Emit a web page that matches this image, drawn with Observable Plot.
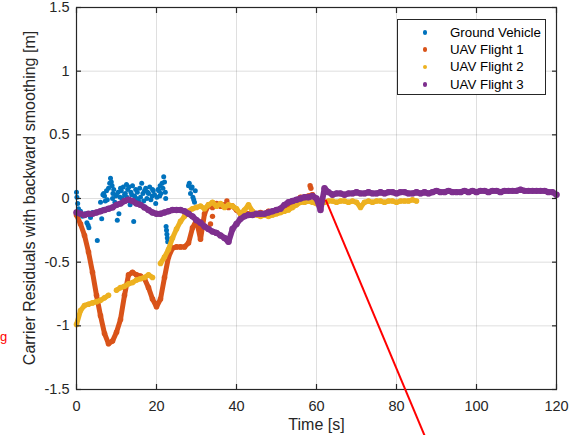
<!DOCTYPE html>
<html>
<head>
<meta charset="utf-8">
<script src="https://cdn.jsdelivr.net/npm/d3@7"></script>
<script src="https://cdn.jsdelivr.net/npm/@observablehq/plot@0.6"></script>
<style>
  html, body { margin: 0; padding: 0; background: #fff; }
  #chart { position: relative; width: 584px; height: 435px; overflow: hidden;
           font-family: "Liberation Sans", Arial, sans-serif; }
  #legend { position: absolute; left: 397px; top: 19px; width: 149px; height: 76px;
            box-sizing: border-box; border: 1px solid #262626; background: #fff; }
  .row { position: absolute; left: 0; height: 17.4px; line-height: 17.4px;
         font-size: 13.3px; color: #000; white-space: nowrap; }
  .row .mk { position: absolute; left: 24.5px; top: 6.5px; width: 4.6px; height: 4.6px; border-radius: 50%; }
  .row .lb { position: absolute; left: 52px; }
  #ylabel { position: absolute; left: 30px; top: 198px; white-space: nowrap; font-size: 16px; color: #262626;
            transform: translate(-50%, -50%) rotate(-90deg); }
  #stray { position: absolute; left: 0px; top: 329px; color: #f00; font-size: 13px; }
</style>
</head>
<body>
<div id="chart"><div id="stray">g</div></div>
<script>
// Series names and colours (MATLAB default order)
const seriesNames = ["Ground Vehicle", "UAV Flight 1", "UAV Flight 2", "UAV Flight 3"];
const seriesColors = ["#0072BD", "#D95319", "#EDB120", "#7E2F8E"];

// Axis ticks
const xTicks = [0, 20, 40, 60, 80, 100, 120];
const yTicks = [-1.5, -1, -0.5, 0, 0.5, 1, 1.5];

// Ground vehicle residuals: scattered epochs (time [s], residual [m])
const groundT = [0.0, 0.1, 0.3, 0.5, 1.0, 1.5, 2.2, 2.6, 2.9, 3.1, 3.5, 4.0, 5.2, 6.0, 6.4, 6.6, 6.8, 7.2, 7.5, 7.7,
  8.0, 8.3, 8.5, 8.7, 8.9, 9.1, 9.3, 9.6, 9.8, 10.2, 10.4, 10.6, 10.9, 11.2, 11.4, 11.7, 12.0, 12.2, 12.5, 12.8,
  13.1, 13.4, 13.6, 14.0, 14.3, 14.5, 14.8, 15.2, 15.5, 15.8, 16.0, 16.3, 16.6, 16.8, 17.0, 17.3, 17.6, 18.0, 18.3, 18.6,
  18.9, 19.2, 19.5, 19.8, 20.1, 20.4, 20.6, 20.9, 21.1, 21.4, 21.6, 21.8, 22.0, 22.2, 22.3, 22.4, 22.5, 22.6, 22.7, 22.8,
  28.0, 28.2, 28.5, 28.7, 28.9, 29.1, 29.3, 29.5, 29.7, 6.3, 7.0, 10.0, 12.6, 15.0, 17.8, 19.0, 20.8, 13.8, 11.0, 9.0];
const groundV = [0.05, 0.01, -0.04, -0.08, -0.10, -0.14, -0.12, -0.19, -0.21, -0.23, -0.15, -0.11, -0.33, -0.03, -0.09, 0.03, 0.04, -0.02, 0.06, -0.01,
  0.08, 0.12, 0.16, 0.13, 0.10, 0.04, 0.07, -0.03, 0.02, -0.17, 0.05, -0.12, 0.01, 0.06, 0.00, 0.09, 0.03, 0.04, 0.11, 0.07,
  0.09, -0.05, 0.05, 0.10, -0.18, 0.02, 0.07, 0.05, -0.02, 0.08, 0.01, 0.12, 0.04, -0.02, 0.06, 0.08, 0.00, 0.04, 0.09, -0.01,
  0.02, 0.06, 0.03, -0.04, 0.01, 0.07, 0.06, 0.10, 0.04, 0.12, 0.08, 0.17, 0.13, 0.05, 0.00, -0.22, -0.25, -0.28, -0.31, -0.34,
  0.10, 0.12, 0.04, 0.08, 0.09, 0.01, -0.01, -0.03, 0.06, -0.16, 0.02, 0.03, 0.01, 0.00, 0.05, 0.07, 0.02, 0.03, 0.08, 0.00];

// UAV residuals, one value per second starting at t = 0 (null = no solution)
const flight1 = [-0.13, -0.20, -0.29, -0.42, -0.58, -0.76, -0.92, -1.06, -1.14, -1.12,
  -1.05, -0.95, -0.76, -0.60, -0.58, -0.60, -0.61, -0.63, -0.70, -0.79,
  -0.85, -0.79, -0.62, -0.46, -0.39, -0.38, -0.38, -0.38, -0.35, -0.23,
  -0.17, -0.32, -0.12, -0.05, -0.07, -0.04, -0.06, -0.05, -0.07, -0.06,
  -0.09, -0.12, -0.11, -0.12, -0.11, -0.12, -0.11, -0.12, -0.10, -0.11,
  -0.09, -0.10, -0.07, -0.05, -0.03, -0.02, 0.01, 0.01, 0.02, 0.03];
const flight1OutT = [33.5, 34.0, 37.6, 58.4, 58.6];
const flight1OutV = [-0.20, -0.14, -0.02, 0.10, 0.08];

const flight2 = [-0.99, -0.88, -0.84, -0.83, -0.82, -0.81, -0.80, -0.78, -0.76, null,
  -0.72, -0.70, -0.69, -0.67, -0.66, -0.64, -0.63, -0.62, -0.60, -0.62,
  null, -0.51, -0.46, -0.40, -0.31, -0.24, -0.18, -0.14, -0.10, -0.08,
  -0.07, -0.06, -0.08, -0.05, -0.03, -0.06, -0.04, -0.07, -0.05, -0.06,
  -0.08, -0.12, -0.09, -0.05, -0.10, -0.13, -0.14, -0.13, -0.14, -0.13,
  -0.12, -0.11, -0.10, -0.09, -0.07, -0.05, -0.03, -0.03, -0.02, -0.03,
  -0.04, -0.02, -0.03, -0.02, -0.02, -0.03, -0.02, -0.02, -0.03, -0.02,
  -0.03, -0.07, -0.03, -0.02, -0.03, -0.02, -0.02, -0.03, -0.02, -0.02,
  -0.03, -0.02, -0.02, -0.02, -0.01, -0.02];

const flight3 = [-0.11, -0.12, -0.13, -0.12, -0.12, -0.11, -0.10, -0.09, -0.08, -0.07,
  -0.05, -0.04, -0.02, -0.01, -0.02, -0.04, -0.05, -0.07, -0.09, -0.11,
  -0.12, -0.12, -0.11, -0.10, -0.09, -0.09, -0.09, -0.10, -0.12, -0.14,
  -0.17, -0.19, -0.22, -0.24, -0.26, -0.27, -0.29, -0.31, -0.34, -0.24,
  -0.20, -0.16, -0.14, -0.13, -0.13, -0.12, -0.12, -0.12, -0.11, -0.10,
  -0.09, -0.08, -0.05, -0.03, -0.02, -0.01, 0.00, 0.01, 0.01, 0.02,
  0.00, -0.09, 0.08, 0.05, 0.03, 0.04, 0.04, 0.03, 0.04, 0.04,
  0.05, 0.04, 0.04, 0.05, 0.04, 0.04, 0.05, 0.04, 0.05, 0.05,
  0.04, 0.05, 0.05, 0.04, 0.04, 0.05, 0.04, 0.05, 0.04, 0.05,
  0.06, 0.05, 0.05, 0.06, 0.05, 0.05, 0.05, 0.06, 0.05, 0.06,
  0.05, 0.06, 0.06, 0.05, 0.06, 0.06, 0.05, 0.06, 0.06, 0.06,
  0.06, 0.07, 0.06, 0.06, 0.06, 0.06, 0.06, 0.06, 0.05, 0.05,
  0.03];

// Red pointer line drawn over the plot (time [s], residual [m])
const pointerX = [62.3, 87.0];
const pointerY = [-0.01, -1.86];

const yLabel = "Carrier Residuals with backward smoothing [m]";
const xLabel = "Time [s]";

const perSecond = arr => arr.map((v, i) => ({t: i, v}));
const pairs = (ts, vs) => ts.map((t, i) => ({t, v: vs[i]}));

const ground = pairs(groundT, groundV);
const f1 = perSecond(flight1);
const f1out = pairs(flight1OutT, flight1OutV);
const f2 = perSecond(flight2);
const f3 = perSecond(flight3);
const pointer = [{x1: pointerX[0], y1: pointerY[0], x2: pointerX[1], y2: pointerY[1]}];

const ink = "#262626";
const band = (data, color, w) => [
  Plot.line(data, {x: "t", y: "v", stroke: color, strokeWidth: w, strokeLinecap: "round", strokeLinejoin: "round"}),
  Plot.dot(data, {x: "t", y: "v", r: w / 2 + 0.3, fill: color})
];

const chart = Plot.plot({
  width: 584,
  height: 435,
  marginLeft: 76,
  marginRight: 28,
  marginTop: 7,
  marginBottom: 46,
  x: {domain: [0, 120]},
  y: {domain: [-1.5, 1.5]},
  style: {fontFamily: "'Liberation Sans', Arial, sans-serif", color: ink, background: "white", overflow: "visible"},
  marks: [
    Plot.gridX(xTicks, {stroke: ink, strokeOpacity: 0.15, strokeWidth: 1}),
    Plot.gridY(yTicks, {stroke: ink, strokeOpacity: 0.15, strokeWidth: 1}),
    Plot.dot(ground, {x: "t", y: "v", r: 2.5, fill: seriesColors[0]}),
    ...band(f1, seriesColors[1], 5),
    Plot.dot(f1out, {x: "t", y: "v", r: 2.7, fill: seriesColors[1]}),
    ...band(f2, seriesColors[2], 5),
    ...band(f3, seriesColors[3], 5.8),
    Plot.frame({stroke: ink, strokeWidth: 1.2}),
    // tick labels
    Plot.axisX(xTicks, {anchor: "bottom", tickSize: 0, tickPadding: 11, fontSize: 14.5, label: null, tickFormat: d => String(d)}),
    Plot.axisY(yTicks, {anchor: "left", tickSize: 0, tickPadding: 7, fontSize: 14.5, label: null, tickFormat: d => String(d)}),
    // inward ticks on all four sides
    Plot.axisX(xTicks, {anchor: "bottom", tickSize: 5, dy: -5, tickFormat: () => "", label: null, strokeWidth: 1.2}),
    Plot.axisX(xTicks, {anchor: "top", tickSize: 5, dy: 5, tickFormat: () => "", label: null, strokeWidth: 1.2}),
    Plot.axisY(yTicks, {anchor: "left", tickSize: 5, dx: 5, tickFormat: () => "", label: null, strokeWidth: 1.2}),
    Plot.axisY(yTicks, {anchor: "right", tickSize: 5, dx: -5, tickFormat: () => "", label: null, strokeWidth: 1.2}),
    // x-axis title
    Plot.text([xLabel], {frameAnchor: "bottom", dy: 40, fontSize: 16, fill: ink}),
    // pointer
    Plot.link(pointer, {x1: "x1", y1: "y1", x2: "x2", y2: "y2", stroke: "#ff0000", strokeWidth: 2})
  ]
});

const host = document.getElementById("chart");
host.insertBefore(chart, host.firstChild);

// y-axis title, rotated
const yl = document.createElement("div");
yl.id = "ylabel";
yl.textContent = yLabel;
host.appendChild(yl);

// legend box
const legend = document.createElement("div");
legend.id = "legend";
seriesNames.forEach((name, i) => {
  const row = document.createElement("div");
  row.className = "row";
  row.style.top = (3.5 + i * 17.4) + "px";
  row.style.width = "100%";
  const mk = document.createElement("span");
  mk.className = "mk";
  mk.style.background = seriesColors[i];
  const lb = document.createElement("span");
  lb.className = "lb";
  lb.textContent = name;
  row.appendChild(mk);
  row.appendChild(lb);
  legend.appendChild(row);
});
host.appendChild(legend);
</script>
</body>
</html>
